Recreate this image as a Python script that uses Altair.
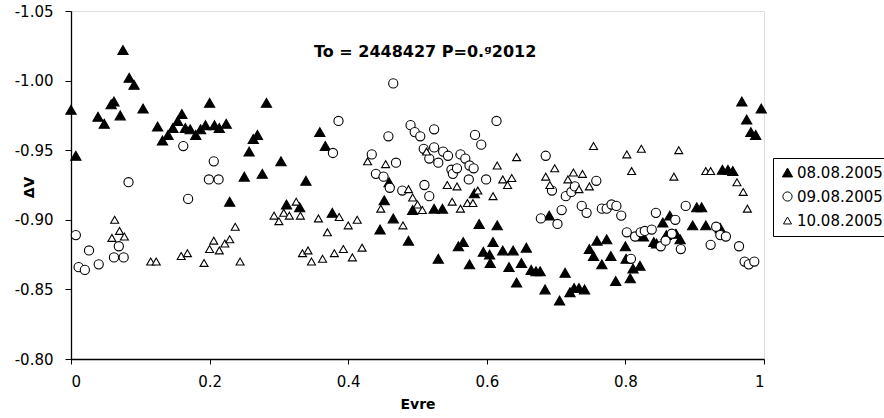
import altair as alt
import pandas as pd

series_names = ["08.08.2005", "09.08.2005", "10.08.2005"]

# 08.08.2005 (filled triangles)
s1_x = [0.000, 0.007, 0.039, 0.048, 0.058, 0.062, 0.071, 0.075, 0.084, 0.091, 0.104, 0.125, 0.132, 0.140,
        0.147, 0.154, 0.160, 0.165, 0.172, 0.180, 0.187, 0.194, 0.200, 0.207, 0.214, 0.224, 0.229, 0.250,
        0.257, 0.263, 0.269, 0.276, 0.282, 0.303, 0.311, 0.330, 0.339, 0.359, 0.367, 0.377, 0.446, 0.452,
        0.459, 0.465, 0.487, 0.493, 0.524, 0.530, 0.536, 0.559, 0.566, 0.575, 0.582, 0.589, 0.595, 0.604,
        0.605, 0.609, 0.615, 0.623, 0.632, 0.638, 0.643, 0.650, 0.657, 0.664, 0.671, 0.677, 0.684, 0.690,
        0.705, 0.713, 0.720, 0.726, 0.733, 0.741, 0.748, 0.754, 0.759, 0.766, 0.773, 0.779, 0.786, 0.800,
        0.801, 0.807, 0.811, 0.821, 0.826, 0.841, 0.845, 0.854, 0.859, 0.864, 0.873, 0.879, 0.897, 0.903,
        0.910, 0.916, 0.937, 0.940, 0.948, 0.955, 0.968, 0.975, 0.981, 0.988, 0.996]
s1_y = [-0.979, -0.946, -0.974, -0.969, -0.983, -0.985, -0.975, -1.022, -1.002, -0.997, -0.980, -0.967, -0.957, -0.961,
        -0.966, -0.971, -0.976, -0.966, -0.965, -0.961, -0.965, -0.968, -0.984, -0.968, -0.966, -0.969, -0.913, -0.931,
        -0.949, -0.958, -0.961, -0.933, -0.984, -0.942, -0.911, -0.909, -0.928, -0.963, -0.953, -0.905, -0.893, -0.914,
        -0.927, -0.901, -0.885, -0.907, -0.908, -0.872, -0.908, -0.881, -0.884, -0.868, -0.919, -0.897, -0.877, -0.875,
        -0.869, -0.884, -0.896, -0.878, -0.866, -0.878, -0.855, -0.869, -0.880, -0.864, -0.863, -0.863, -0.850, -0.903,
        -0.842, -0.862, -0.848, -0.851, -0.851, -0.850, -0.879, -0.874, -0.885, -0.868, -0.886, -0.874, -0.856, -0.881,
        -0.872, -0.858, -0.865, -0.867, -0.888, -0.884, -0.883, -0.898, -0.889, -0.903, -0.890, -0.886, -0.896, -0.909,
        -0.909, -0.896, -0.894, -0.936, -0.936, -0.935, -0.985, -0.972, -0.963, -0.961, -0.980]

# 09.08.2005 (open circles)
s2_x = [0.007, 0.011, 0.020, 0.026, 0.040, 0.062, 0.069, 0.076, 0.083, 0.162, 0.169, 0.199, 0.206, 0.213,
        0.378, 0.386, 0.434, 0.440, 0.451, 0.458, 0.460, 0.465, 0.469, 0.478, 0.490, 0.496, 0.504, 0.509,
        0.510, 0.517, 0.517, 0.524, 0.524, 0.530, 0.537, 0.544, 0.549, 0.551, 0.557, 0.562, 0.569, 0.574,
        0.575, 0.581, 0.583, 0.592, 0.599, 0.614, 0.678, 0.685, 0.694, 0.702, 0.708, 0.714, 0.722, 0.727,
        0.737, 0.744, 0.758, 0.766, 0.773, 0.780, 0.787, 0.794, 0.802, 0.808, 0.814, 0.822, 0.828, 0.838,
        0.844, 0.851, 0.858, 0.867, 0.872, 0.880, 0.887, 0.923, 0.931, 0.937, 0.945, 0.964, 0.972, 0.978, 0.986]
s2_y = [-0.889, -0.866, -0.864, -0.878, -0.868, -0.873, -0.881, -0.873, -0.927, -0.953, -0.915, -0.929, -0.942, -0.929,
        -0.948, -0.971, -0.947, -0.933, -0.931, -0.960, -0.923, -0.998, -0.941, -0.921, -0.968, -0.963, -0.960, -0.951,
        -0.925, -0.944, -0.917, -0.965, -0.952, -0.941, -0.949, -0.946, -0.936, -0.933, -0.937, -0.947, -0.944, -0.929,
        -0.939, -0.937, -0.961, -0.954, -0.929, -0.971, -0.901, -0.946, -0.921, -0.897, -0.907, -0.917, -0.920, -0.924,
        -0.910, -0.905, -0.928, -0.908, -0.908, -0.911, -0.910, -0.903, -0.891, -0.872, -0.888, -0.891, -0.892, -0.893,
        -0.905, -0.881, -0.885, -0.890, -0.900, -0.879, -0.910, -0.882, -0.895, -0.889, -0.888, -0.881, -0.870, -0.868, -0.870]

# 10.08.2005 (open triangles)
s3_x = [0.059, 0.063, 0.070, 0.077, 0.115, 0.123, 0.159, 0.168, 0.192, 0.200, 0.206, 0.214, 0.222, 0.229,
        0.237, 0.244, 0.293, 0.300, 0.307, 0.315, 0.325, 0.331, 0.334, 0.342, 0.347, 0.357, 0.363, 0.370,
        0.380, 0.387, 0.393, 0.400, 0.406, 0.413, 0.420, 0.428, 0.447, 0.454, 0.479, 0.487, 0.493, 0.500,
        0.507, 0.513, 0.543, 0.550, 0.557, 0.562, 0.572, 0.580, 0.587, 0.609, 0.615, 0.623, 0.630, 0.636,
        0.643, 0.685, 0.691, 0.698, 0.717, 0.725, 0.733, 0.738, 0.748, 0.754, 0.802, 0.809, 0.823, 0.870,
        0.877, 0.916, 0.923, 0.961, 0.970, 0.976]
s3_y = [-0.887, -0.900, -0.892, -0.888, -0.870, -0.870, -0.874, -0.876, -0.869, -0.879, -0.885, -0.878, -0.883, -0.886,
        -0.895, -0.870, -0.903, -0.899, -0.905, -0.903, -0.913, -0.903, -0.876, -0.878, -0.870, -0.901, -0.872, -0.891,
        -0.876, -0.902, -0.879, -0.896, -0.873, -0.900, -0.880, -0.942, -0.908, -0.940, -0.896, -0.922, -0.916, -0.911,
        -0.907, -0.949, -0.925, -0.913, -0.924, -0.908, -0.912, -0.912, -0.921, -0.917, -0.939, -0.929, -0.925, -0.930,
        -0.945, -0.931, -0.925, -0.937, -0.929, -0.934, -0.922, -0.933, -0.924, -0.953, -0.947, -0.935, -0.951, -0.931,
        -0.950, -0.935, -0.935, -0.927, -0.920, -0.908]

y_ticks = [-1.05, -1.00, -0.95, -0.90, -0.85, -0.80]
x_ticks = [0, 0.2, 0.4, 0.6, 0.8, 1]
title_text = "To = 2448427 P=0.\u1d4d2012"

rows = []
for name, xs, ys in zip(series_names, [s1_x, s2_x, s3_x], [s1_y, s2_y, s3_y]):
    for a, b in zip(xs, ys):
        rows.append({"Evre": a, "dV": b, "Seri": name})
df = pd.DataFrame(rows)

FONT = "DejaVu Sans"


def make_legend():
    return alt.Legend(title=None, orient="none", legendX=702, legendY=147,
                      strokeColor="black", padding=7, fillColor="white",
                      labelFont=FONT, labelFontSize=15, labelColor="black",
                      rowPadding=8, labelOffset=2, offset=0,
                      symbolStrokeColor="black", symbolStrokeWidth=1)


points = alt.Chart(df).mark_point(filled=True, strokeWidth=1.1, opacity=1).encode(
    x=alt.X("Evre:Q", scale=alt.Scale(domain=[0, 1], nice=False, zero=False),
            axis=alt.Axis(values=x_ticks, title="Evre", labelExpr="format(datum.value, '~g')",
                          grid=False, domainColor="black", tickColor="black", tickSize=5,
                          labelFont=FONT, labelFontSize=15, labelColor="black", labelPadding=10,
                          titleFont=FONT, titleFontSize=14, titleFontWeight="bold", titleColor="black",
                          titlePadding=8, domainWidth=1.3)),
    y=alt.Y("dV:Q", scale=alt.Scale(domain=[-1.05, -0.80], reverse=True, nice=False, zero=False),
            axis=alt.Axis(values=y_ticks, title="\u0394V",
                          labelExpr="replace(format(datum.value, '.2f'), '\u2212', '-')",
                          grid=False, domainColor="black", tickColor="black", tickSize=6,
                          labelFont=FONT, labelFontSize=15, labelColor="black", labelPadding=12,
                          titleFont=FONT, titleFontSize=14, titleFontWeight="bold", titleColor="black",
                          titleAngle=270, titleX=-42, titleY=176, titleAlign="center",
                          titleBaseline="middle", domainWidth=1.3)),
    shape=alt.Shape("Seri:N", scale=alt.Scale(domain=series_names,
                                              range=["triangle-up", "circle", "triangle-up"]),
                    legend=make_legend()),
    fill=alt.Fill("Seri:N", scale=alt.Scale(domain=series_names, range=["black", "white", "white"]),
                  legend=make_legend()),
    stroke=alt.Stroke("Seri:N", scale=alt.Scale(domain=series_names, range=["black", "black", "black"]),
                      legend=make_legend()),
    size=alt.Size("Seri:N", scale=alt.Scale(domain=series_names, range=[105, 64, 105]),
                  legend=make_legend()),
)

label = alt.Chart(pd.DataFrame({"t": [title_text]})).mark_text(
    font=FONT, fontSize=16, fontWeight="bold", color="black", align="center", baseline="middle"
).encode(
    x=alt.datum(0.511), y=alt.datum(-1.0205), text="t:N"
)

chart = alt.layer(points, label).properties(
    width=693, height=348,
    autosize=alt.AutoSizeParams(type="none"),
    padding={"left": 71, "top": 11, "right": 120, "bottom": 59},
).configure_view(stroke="black", strokeWidth=1).configure(background="white")

chart.save("out.html", embed_options={"renderer": "svg", "actions": False})
